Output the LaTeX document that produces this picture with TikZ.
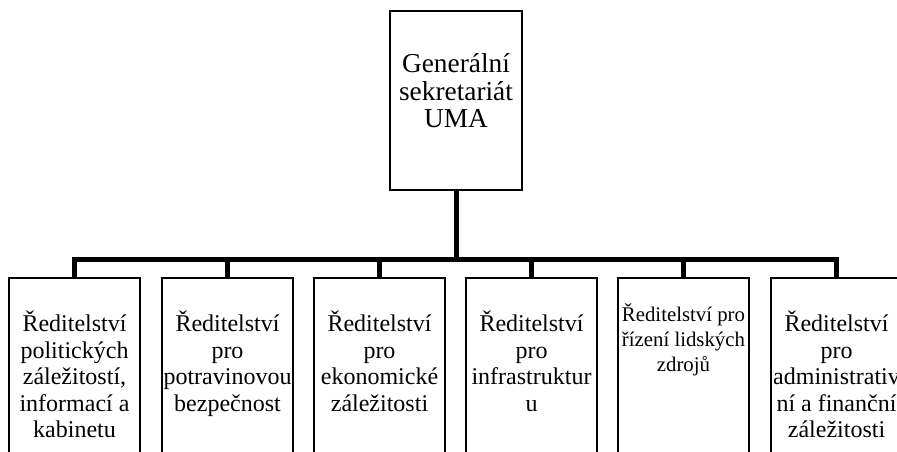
\documentclass[tikz,border=0pt]{standalone}
\usepackage{fontspec}
\setmainfont{Liberation Serif}
\begin{document}
\begin{tikzpicture}[x=0.75pt,y=-0.75pt,
  box/.style={draw, line width=1.1pt, inner sep=0pt, outer sep=0pt, minimum width=98.25pt, minimum height=151.5pt, anchor=north},
  topbox/.style={draw, line width=1.1pt, inner sep=0pt, outer sep=0pt, minimum width=99pt, minimum height=134.25pt, anchor=north},
  conn/.style={line width=3.75pt},
  txt/.style={inner sep=0pt, anchor=base, font=\fontsize{18}{19.9}\selectfont},
  smalltxt/.style={inner sep=0pt, anchor=base, font=\fontsize{15.6}{18.5}\selectfont},
  toptxt/.style={inner sep=0pt, anchor=base, font=\fontsize{20.5}{20.25}\selectfont}]
\useasboundingbox (0,0) rectangle (897,452);
\clip (0,0) rectangle (897,452);
\newcommand{\lns}[1]{\begin{tabular}[t]{@{}c@{}}#1\end{tabular}}
% boxes
\node[topbox] (top) at (456,11) {};
\node[box] (c1) at (74.5,278) {};
\node[box] (c2) at (227.5,278) {};
\node[box] (c3) at (379.5,278) {};
\node[box] (c4) at (531.5,278) {};
\node[box] (c5) at (683.5,278) {};
\node[box] (c6) at (836.5,278) {};
% connectors
\coordinate (bar) at (456,260);
\foreach \c in {c1,c2,c3,c4,c5,c6}{
  \draw[conn] (top.south) -- (bar) -| (\c.north);
}
% texts
\node[toptxt] (t0) at (456,73) {\lns{Generální\\sekretariát\\UMA}};
\node[txt] (t1) at (74.5,331.5) {\lns{Ředitelství\\politických\\záležitostí,\\informací a\\kabinetu}};
\node[txt] (t2) at (227.5,331.5) {\lns{Ředitelství\\pro\\potravinovou\\bezpečnost}};
\node[txt] (t3) at (379.5,331.5) {\lns{Ředitelství\\pro\\ekonomické\\záležitosti}};
\node[txt] (t4) at (531.5,331.5) {\lns{Ředitelství\\pro\\infrastruktur\\u}};
\node[smalltxt] (t5) at (683.5,322) {\lns{Ředitelství pro\\řízení lidských\\zdrojů}};
\node[txt] (t6) at (836.5,331.5) {\lns{Ředitelství\\pro\\administrativ\\ní a finanční\\záležitosti}};
\end{tikzpicture}
\end{document}
